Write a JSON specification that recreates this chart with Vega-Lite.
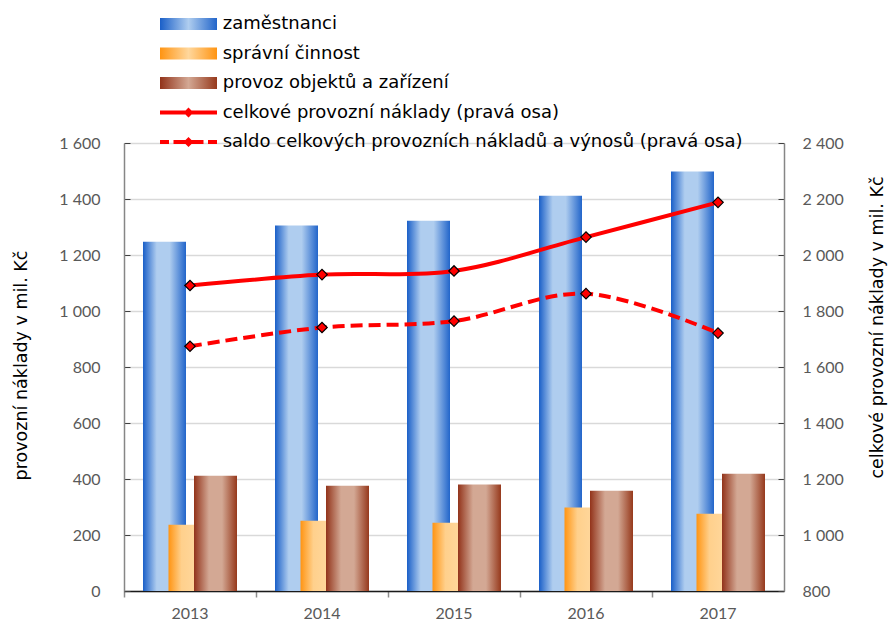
{
  "$schema": "https://vega.github.io/schema/vega-lite/v6.json",
  "width": 660,
  "height": 448,
  "autosize": {"type": "none"},
  "padding": {"left": 124, "top": 143, "right": 109, "bottom": 32},
  "background": "white",
  "config": {
    "view": {"stroke": null},
    "locale": {"number": {"decimal": ",", "thousands": " ", "grouping": [3], "currency": ["", " Kč"]}},
    "axis": {
      "labelFont": "Lato",
      "labelFontSize": 16,
      "labelColor": "#595959",
      "titleFont": "DejaVu Sans",
      "titleFontSize": 17.5,
      "titleFontWeight": "normal",
      "titleColor": "#000000"
    }
  },
  "data": {
    "values": [
      {"year": "2013", "zamestnanci": 1247, "spravni": 237, "provoz": 412, "celkove": 1891, "saldo": 1674},
      {"year": "2014", "zamestnanci": 1305, "spravni": 251, "provoz": 376, "celkove": 1930, "saldo": 1741},
      {"year": "2015", "zamestnanci": 1322, "spravni": 244, "provoz": 380, "celkove": 1943, "saldo": 1764},
      {"year": "2016", "zamestnanci": 1412, "spravni": 298, "provoz": 358, "celkove": 2064, "saldo": 1862},
      {"year": "2017", "zamestnanci": 1498, "spravni": 276, "provoz": 419, "celkove": 2188, "saldo": 1721}
    ]
  },
  "encoding": {
    "x": {
      "field": "year",
      "type": "ordinal",
      "scale": {"paddingInner": 0, "paddingOuter": 0},
      "axis": {
        "title": null,
        "labelAngle": 0,
        "bandPosition": 0,
        "labelOffset": 0,
        "tickSize": 6,
        "tickColor": "#8c8c8c",
        "tickWidth": 1.5,
        "domainColor": "#1a1a1a",
        "domainWidth": 1.5,
        "labelPadding": 8,
        "grid": false
      }
    }
  },
  "layer": [
    {
      "encoding": {
        "y": {
          "type": "quantitative",
          "scale": {"domain": [0, 1600], "nice": false, "zero": true},
          "axis": {
            "orient": "left",
            "title": "provozní náklady v mil. Kč",
            "values": [0, 200, 400, 600, 800, 1000, 1200, 1400, 1600],
            "format": ",d",
            "grid": true,
            "gridColor": "#d9d9d9",
            "gridWidth": 1.5,
            "domainColor": "#868686",
            "domainWidth": 1.5,
            "tickColor": "#404040",
            "tickSize": -6,
            "labelPadding": 30,
            "titleAngle": 270,
            "titleAlign": "center",
            "titleBaseline": "middle",
            "titleX": -103,
            "titleY": 222
          }
        }
      },
      "layer": [
        {
          "mark": {
            "type": "bar",
            "width": 43,
            "xOffset": -25.5,
            "color": {"gradient": "linear", "x1": 0, "x2": 1, "y1": 0, "y2": 0,
              "stops": [
                {"offset": 0, "color": "#1a5fc8"},
                {"offset": 0.32, "color": "#afcdef"},
                {"offset": 0.62, "color": "#afcdef"},
                {"offset": 1, "color": "#2265ca"}
              ]}
          },
          "encoding": {"y": {"field": "zamestnanci"}}
        },
        {
          "mark": {
            "type": "bar",
            "width": 43,
            "xOffset": 0,
            "color": {"gradient": "linear", "x1": 0, "x2": 1, "y1": 0, "y2": 0,
              "stops": [
                {"offset": 0, "color": "#ff9412"},
                {"offset": 0.3, "color": "#ffd08c"},
                {"offset": 0.65, "color": "#ffd79c"},
                {"offset": 1, "color": "#ff9412"}
              ]}
          },
          "encoding": {"y": {"field": "spravni"}}
        },
        {
          "mark": {
            "type": "bar",
            "width": 43,
            "xOffset": 25.5,
            "color": {"gradient": "linear", "x1": 0, "x2": 1, "y1": 0, "y2": 0,
              "stops": [
                {"offset": 0, "color": "#92331a"},
                {"offset": 0.35, "color": "#d3a894"},
                {"offset": 0.65, "color": "#d3a894"},
                {"offset": 1, "color": "#96391c"}
              ]}
          },
          "encoding": {"y": {"field": "provoz"}}
        }
      ]
    },
    {
      "encoding": {
        "y": {
          "type": "quantitative",
          "scale": {"domain": [800, 2400], "nice": false, "zero": false},
          "axis": {
            "orient": "right",
            "title": "celkové provozní náklady v mil. Kč",
            "values": [800, 1000, 1200, 1400, 1600, 1800, 2000, 2200, 2400],
            "format": ",d",
            "grid": false,
            "domainColor": "#868686",
            "domainWidth": 1.5,
            "tickColor": "#404040",
            "tickSize": -6,
            "labelPadding": 24,
            "titleAngle": 270,
            "titleAlign": "center",
            "titleBaseline": "middle",
            "titleX": 93,
            "titleY": 184
          }
        }
      },
      "layer": [
        {
          "mark": {"type": "line", "interpolate": "cardinal", "strokeWidth": 4},
          "encoding": {
            "y": {"field": "celkove"},
            "color": {
              "datum": "celkové provozní náklady (pravá osa)",
              "type": "nominal",
              "scale": {
                "domain": ["zaměstnanci", "správní činnost", "provoz objektů a zařízení", "celkové provozní náklady (pravá osa)", "saldo celkových provozních nákladů a výnosů (pravá osa)"],
                "range": ["#2265ca", "#ff9412", "#96391c", "#ff0000", "#ff0000"]
              },
              "legend": {
                "orient": "none",
                "legendX": 54.5,
                "legendY": -129,
                "direction": "vertical",
                "title": null,
                "padding": 0,
                "labelFont": "DejaVu Sans",
                "labelFontSize": 18,
                "labelColor": "#000000",
                "labelLimit": 800,
                "labelOffset": 24.2,
                "symbolSize": 400,
                "rowPadding": 10.5,
                "symbolType": "M-2.85,-0.6H2.85V0.6H-2.85Z",
                "symbolStrokeWidth": 0,
                "symbolFillColor": "#ff0000",
                "encode": {
                  "symbols": {
                    "update": {
                      "shape": [
                        {"test": "datum.value === 'zaměstnanci' || datum.value === 'správní činnost' || datum.value === 'provoz objektů a zařízení'", "value": "M-2.85,-0.6H2.85V0.6H-2.85Z"},
                        {"test": "datum.value === 'celkové provozní náklady (pravá osa)'", "value": "M-2.85,-0.2H-0.3L0,-0.5L0.3,-0.2H2.85V0.2H0.3L0,0.5L-0.3,0.2H-2.85Z"},
                        {"value": "M-2.85,-0.2H-1.95V0.2H-2.85Z M-1.5,-0.2H-0.3L0,-0.5L0.3,-0.2H1.5V0.2H0.3L0,0.5L-0.3,0.2H-1.5Z M1.95,-0.2H2.85V0.2H1.95Z"}
                      ],
                      "fill": [
                        {"test": "datum.value === 'zaměstnanci'", "value": {"gradient": "linear", "x1": 0, "x2": 1, "y1": 0, "y2": 0, "stops": [{"offset": 0, "color": "#1a5fc8"}, {"offset": 0.5, "color": "#afcdef"}, {"offset": 1, "color": "#2265ca"}]}},
                        {"test": "datum.value === 'správní činnost'", "value": {"gradient": "linear", "x1": 0, "x2": 1, "y1": 0, "y2": 0, "stops": [{"offset": 0, "color": "#ff9412"}, {"offset": 0.5, "color": "#ffd79c"}, {"offset": 1, "color": "#ff9412"}]}},
                        {"test": "datum.value === 'provoz objektů a zařízení'", "value": {"gradient": "linear", "x1": 0, "x2": 1, "y1": 0, "y2": 0, "stops": [{"offset": 0, "color": "#92331a"}, {"offset": 0.5, "color": "#d3a894"}, {"offset": 1, "color": "#96391c"}]}},
                        {"value": "#ff0000"}
                      ],
                      "strokeWidth": {"value": 0}
                    }
                  }
                }
              }
            }
          }
        },
        {
          "mark": {"type": "line", "interpolate": "cardinal", "strokeWidth": 4, "strokeDash": [12, 6]},
          "encoding": {
            "y": {"field": "saldo"},
            "color": {"datum": "saldo celkových provozních nákladů a výnosů (pravá osa)", "type": "nominal"}
          }
        },
        {
          "mark": {"type": "point", "shape": "diamond", "filled": true, "fill": "#ff0000", "stroke": "#000000", "strokeWidth": 1.2, "size": 110, "opacity": 1},
          "encoding": {"y": {"field": "celkove"}}
        },
        {
          "mark": {"type": "point", "shape": "diamond", "filled": true, "fill": "#ff0000", "stroke": "#000000", "strokeWidth": 1.2, "size": 110, "opacity": 1},
          "encoding": {"y": {"field": "saldo"}}
        }
      ]
    }
  ],
  "resolve": {"scale": {"y": "independent"}}
}
